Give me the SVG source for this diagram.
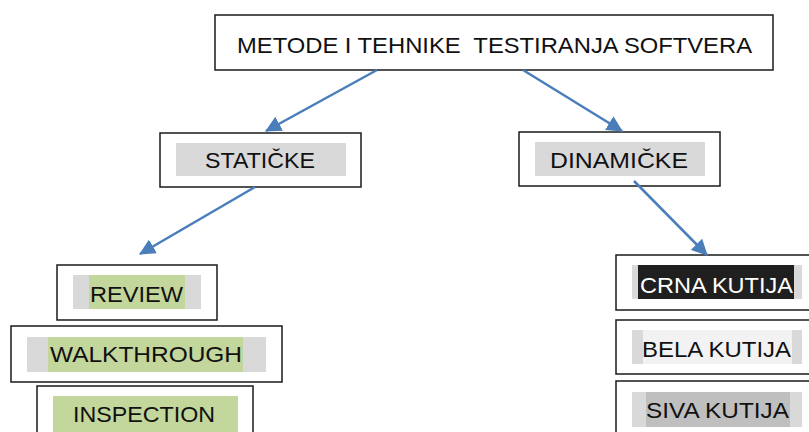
<svg xmlns="http://www.w3.org/2000/svg" width="809" height="432" viewBox="0 0 809 432">
<defs>
<style>
.box{fill:#ffffff;stroke:#1a1a1a;stroke-width:1.5}
.t{font-family:"Liberation Sans",Arial,sans-serif;font-size:22.5px;fill:#111111;white-space:pre}
.g{fill:#d9d9d9}
.green{fill:#c3d69b}
.conn{stroke:#4a7ebb;stroke-width:2.5;fill:none;marker-end:url(#ah)}
</style>
<marker id="ah" markerUnits="userSpaceOnUse" markerWidth="16" markerHeight="16" refX="15" refY="8" orient="auto" viewBox="0 0 16 16">
<path d="M0,0 L16,8 L0,16 z" fill="#4a7ebb"/>
</marker>
</defs>
<rect width="809" height="432" fill="#ffffff"/>
<g id="title">
<rect class="box" x="215" y="15" width="558" height="55"/>
<text class="t" x="237" y="53" textLength="515" lengthAdjust="spacingAndGlyphs">METODE I TEHNIKE  TESTIRANJA SOFTVERA</text>
</g>
<g id="staticke">
<rect class="box" x="160" y="133" width="201" height="54"/>
<rect class="g" x="176" y="143" width="170" height="33"/>
<text class="t" x="205" y="168" textLength="110" lengthAdjust="spacingAndGlyphs">STATIČKE</text>
</g>
<g id="dinamicke">
<rect class="box" x="519" y="132" width="201" height="54"/>
<rect class="g" x="535" y="142" width="170" height="34"/>
<text class="t" x="550" y="168" textLength="138" lengthAdjust="spacingAndGlyphs">DINAMIČKE</text>
</g>
<g id="review">
<rect class="box" x="57" y="265" width="160" height="55"/>
<rect class="g" x="73" y="275" width="128" height="34"/>
<rect class="green" x="89" y="275" width="96" height="34"/>
<text class="t" x="90" y="302" textLength="93" lengthAdjust="spacingAndGlyphs">REVIEW</text>
</g>
<g id="walkthrough">
<rect class="box" x="11" y="326" width="271" height="56"/>
<rect class="g" x="27" y="337" width="239" height="35"/>
<rect class="green" x="48" y="337" width="195" height="35"/>
<text class="t" x="50" y="362" textLength="192" lengthAdjust="spacingAndGlyphs">WALKTHROUGH</text>
</g>
<g id="inspection">
<rect class="box" x="37" y="386" width="216" height="60"/>
<rect class="green" x="53" y="396" width="185" height="36"/>
<text class="t" x="73" y="422" textLength="142" lengthAdjust="spacingAndGlyphs">INSPECTION</text>
</g>
<g id="crna">
<rect class="box" x="616" y="255" width="200" height="55"/>
<rect class="g" x="632" y="265" width="170" height="34"/>
<rect fill="#1f1f1f" x="638" y="265" width="156" height="34"/>
<text class="t" x="640" y="293" textLength="153" lengthAdjust="spacingAndGlyphs" style="fill:#ffffff">CRNA KUTIJA</text>
</g>
<g id="bela">
<rect class="box" x="616" y="320" width="200" height="54"/>
<rect class="g" x="632" y="330" width="170" height="34"/>
<rect fill="#f2f2f2" x="643" y="330" width="149" height="34"/>
<text class="t" x="642" y="357" textLength="149" lengthAdjust="spacingAndGlyphs">BELA KUTIJA</text>
</g>
<g id="siva">
<rect class="box" x="616" y="381" width="200" height="60"/>
<rect class="g" x="632" y="392" width="170" height="35"/>
<rect fill="#bfbfbf" x="646" y="392" width="144" height="35"/>
<text class="t" x="646" y="418" textLength="143" lengthAdjust="spacingAndGlyphs">SIVA KUTIJA</text>
</g>
<g id="connectors">
<line class="conn" x1="377" y1="70" x2="266" y2="131"/>
<line class="conn" x1="523" y1="70" x2="622" y2="131"/>
<line class="conn" x1="255" y1="187" x2="140" y2="254"/>
<line class="conn" x1="634" y1="181" x2="707" y2="255"/>
</g>
</svg>
